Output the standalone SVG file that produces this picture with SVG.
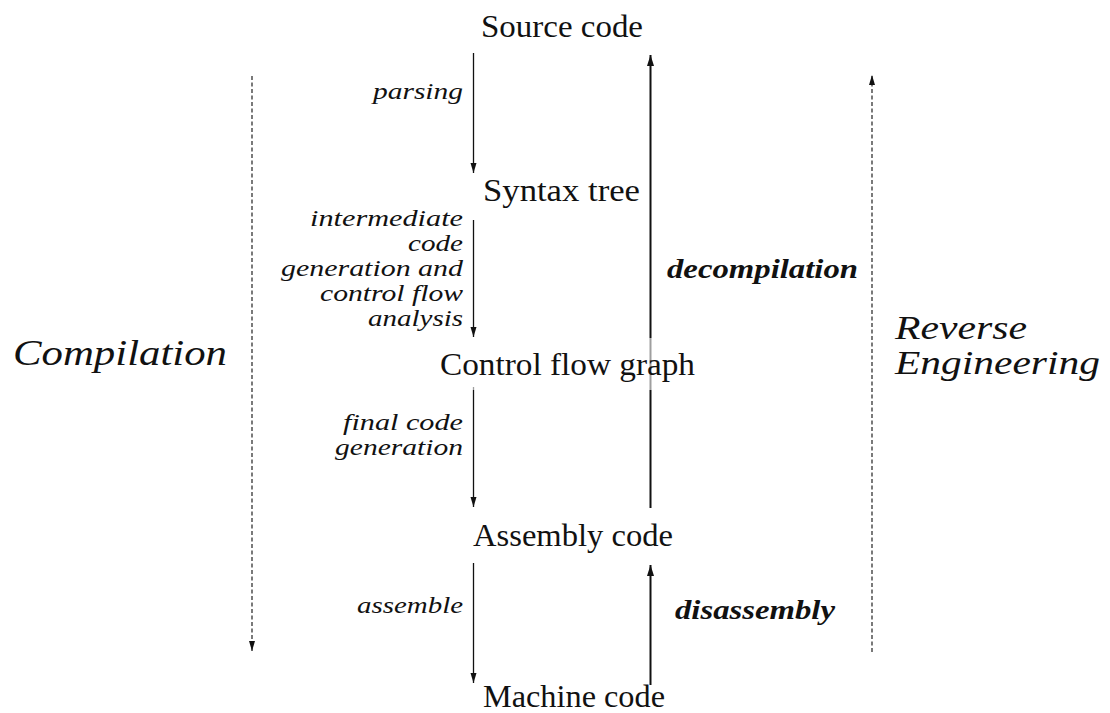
<svg xmlns="http://www.w3.org/2000/svg" width="1110" height="713" viewBox="0 0 1110 713">
  <style>
    text { font-family: "Liberation Serif", "Times New Roman", Times, "DejaVu Serif", serif; fill: #111; }
    .node { font-size: 31px; }
    .lbl { font-size: 24px; font-style: italic; text-anchor: end; }
    .bold { font-size: 28px; font-style: italic; font-weight: bold; }
    .big { font-size: 36px; font-style: italic; }
    .two { font-size: 33px; }
    .down { stroke: #111; stroke-width: 1.3; fill: none; marker-end: url(#head); }
    .up { stroke: #111; stroke-width: 2; fill: none; marker-end: url(#headBold); }
    .dash { stroke: #333; stroke-width: 1.3; stroke-dasharray: 4 2.5; fill: none; marker-end: url(#head); }
  </style>
  <defs>
    <marker id="head" markerUnits="userSpaceOnUse" markerWidth="12" markerHeight="8" refX="10" refY="3.5" orient="auto">
      <path d="M0,0.5 L10,3.5 L0,6.5 Z" fill="#111"/>
    </marker>
    <marker id="headBold" markerUnits="userSpaceOnUse" markerWidth="12" markerHeight="9" refX="11" refY="4" orient="auto">
      <path d="M0,0.5 L11,4 L0,7.5 Z" fill="#111"/>
    </marker>
  </defs>
  <rect width="1110" height="713" fill="#fff"/>

  <g id="connectors">
    <!-- compilation steps -->
    <line class="down" x1="473.5" y1="53" x2="473.5" y2="173"/>
    <line class="down" x1="473.5" y1="220" x2="473.5" y2="337"/>
    <line class="down" x1="473.5" y1="387" x2="473.5" y2="507"/>
    <line class="down" x1="473.5" y1="563" x2="473.5" y2="683"/>
    <!-- reverse steps -->
    <line class="up" x1="650.5" y1="508" x2="650.5" y2="55"/>
    <line class="up" x1="650.5" y1="685" x2="650.5" y2="565"/>
    <!-- overall directions -->
    <line class="dash" x1="252" y1="76" x2="252" y2="651"/>
    <line class="dash" x1="872" y1="652" x2="872" y2="75"/>
  </g>

  <g id="source"><text class="node" x="481" y="37" textLength="162" lengthAdjust="spacingAndGlyphs">Source code</text></g>
  <g id="syntax"><text class="node" x="483" y="201" textLength="157" lengthAdjust="spacingAndGlyphs">Syntax tree</text></g>
  <g id="cfg">
    <rect x="436" y="338" width="264" height="52" fill="#fff" fill-opacity="0.6"/>
    <text class="node" x="440" y="375" textLength="255" lengthAdjust="spacingAndGlyphs">Control flow graph</text>
  </g>
  <g id="assembly"><text class="node" x="473" y="546" textLength="200" lengthAdjust="spacingAndGlyphs">Assembly code</text></g>
  <g id="machine"><text class="node" x="483" y="707" textLength="182" lengthAdjust="spacingAndGlyphs">Machine code</text></g>

  <g id="step-labels">
    <text class="lbl" x="463" y="99" textLength="90" lengthAdjust="spacingAndGlyphs">parsing</text>
    <text class="lbl" x="463" y="226" textLength="153" lengthAdjust="spacingAndGlyphs">intermediate</text>
    <text class="lbl" x="463" y="251" textLength="55" lengthAdjust="spacingAndGlyphs">code</text>
    <text class="lbl" x="463" y="276" textLength="182" lengthAdjust="spacingAndGlyphs">generation and</text>
    <text class="lbl" x="463" y="301" textLength="143" lengthAdjust="spacingAndGlyphs">control flow</text>
    <text class="lbl" x="463" y="326" textLength="95" lengthAdjust="spacingAndGlyphs">analysis</text>
    <text class="lbl" x="463" y="430" textLength="120" lengthAdjust="spacingAndGlyphs">final code</text>
    <text class="lbl" x="463" y="455" textLength="128" lengthAdjust="spacingAndGlyphs">generation</text>
    <text class="lbl" x="463" y="613" textLength="106" lengthAdjust="spacingAndGlyphs">assemble</text>
    <text class="bold" x="667" y="278" textLength="191" lengthAdjust="spacingAndGlyphs">decompilation</text>
    <text class="bold" x="675" y="619" textLength="160" lengthAdjust="spacingAndGlyphs">disassembly</text>
  </g>

  <g id="compilation"><text class="big" x="13" y="365" textLength="214" lengthAdjust="spacingAndGlyphs">Compilation</text></g>
  <g id="reverse-engineering">
    <text class="big two" x="895" y="339" textLength="132" lengthAdjust="spacingAndGlyphs">Reverse</text>
    <text class="big two" x="895" y="374" textLength="205" lengthAdjust="spacingAndGlyphs">Engineering</text>
  </g>
</svg>
